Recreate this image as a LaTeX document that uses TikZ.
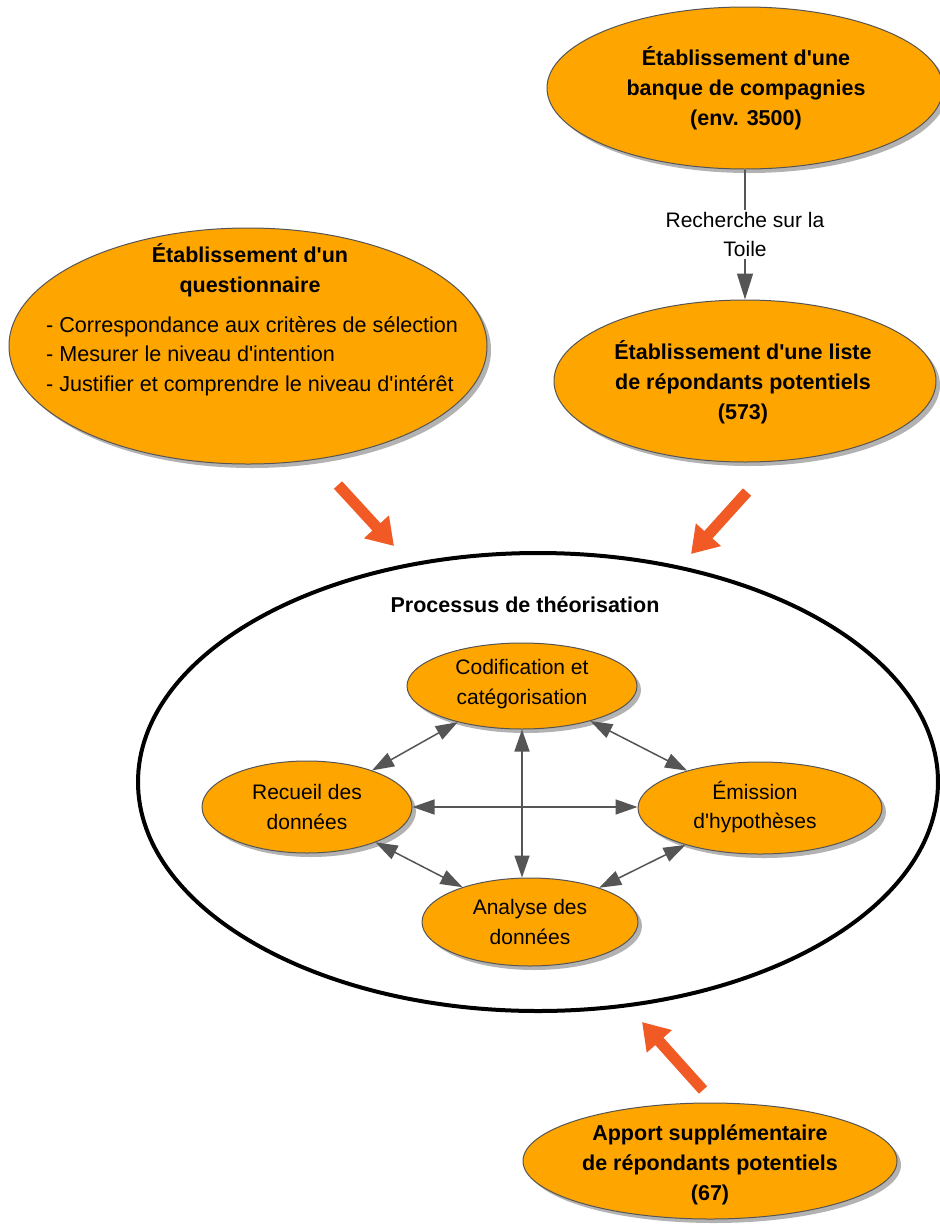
\documentclass[tikz,border=0pt]{standalone}
\usepackage{fontspec}
\setmainfont{Liberation Sans}
\usetikzlibrary{arrows.meta,shapes.geometric,shadows,calc}
\definecolor{fillor}{RGB}{255,165,0}
\definecolor{bord}{RGB}{85,85,85}
\definecolor{conn}{RGB}{85,85,85}
\definecolor{redor}{RGB}{241,90,36}
\newcommand{\apo}{\textquotesingle}
\tikzset{
  oval/.style={ellipse, draw=bord, line width=1pt, fill=fillor, inner sep=0pt,
    drop shadow={shadow xshift=4pt, shadow yshift=-4pt, fill=black, opacity=0.3}},
  btxt/.style={font=\fontsize{21.5}{30}\selectfont\bfseries, align=center, inner sep=0pt},
  rtxt/.style={font=\fontsize{21}{29.5}\selectfont, align=center, inner sep=0pt},
  dbl/.style={draw=conn, line width=1.5pt, {Triangle[length=22pt,width=15pt]}-{Triangle[length=22pt,width=15pt]}},
  sgl/.style={draw=conn, line width=1.5pt, -{Triangle[length=26pt,width=16pt]}},
  bigarrow/.style={draw=redor, line width=11pt, -{Triangle[length=26pt,width=32pt]}},
  bigoval/.style={ellipse, draw=black, line width=4pt, inner sep=0pt}
}
\begin{document}
\begin{tikzpicture}[x=1pt,y=-1pt]
\useasboundingbox[fill=white] (0,0) rectangle (940,1224);

% top right
\node[oval, minimum width=396pt, minimum height=162pt] (banque) at (745,88) {};
\node[btxt] (banquet) at (746,88) {Établissement d\apo une\\banque de compagnies\\(env. 3500)};

\node[oval, minimum width=382pt, minimum height=162pt] (liste) at (745,381) {};
\node[btxt] (listet) at (743,382) {Établissement d\apo une liste\\de répondants potentiels\\(573)};

\draw[sgl] (banque.south) -- node[rtxt, fill=white, inner sep=2pt] (rech) {Recherche sur la\\Toile} (banque.south |- liste.north);

% questionnaire
\node[oval, minimum width=478pt, minimum height=236pt] (quest) at (248,346) {};
\node[btxt] (questt) at (250,270) {Établissement d\apo un\\questionnaire};
\node[rtxt, font=\fontsize{21.6}{29.5}\selectfont, align=left, anchor=west] (questb) at (46,356) {- Correspondance aux critères de sélection\\- Mesurer le niveau d\apo intention\\- Justifier et comprendre le niveau d\apo intérêt};

% big ellipse
\node[bigoval, minimum width=800pt, minimum height=458pt] (proc) at (538,782) {};
\node[btxt] (proct) at (525,605) {Processus de théorisation};

% inner ellipses
\node[oval, minimum width=230pt, minimum height=86pt] (cod) at (522,686) {};
\node[rtxt] (codt) at (522,684) {Codification et\\catégorisation};
\node[oval, minimum width=210pt, minimum height=92pt] (rec) at (307,807) {};
\node[rtxt] (rect) at (307,807) {Recueil des\\données};
\node[oval, minimum width=244pt, minimum height=92pt] (emi) at (760,808) {};
\node[rtxt] (emit) at (755,807) {Émission\\d\apo hypothèses};
\node[oval, minimum width=216pt, minimum height=88pt] (ana) at (530,922) {};
\node[rtxt] (anat) at (530,922) {Analyse des\\données};

\draw[dbl] (rec) -- (cod);
\draw[dbl] (cod) -- (emi);
\draw[dbl] (rec) -- (ana);
\draw[dbl] (emi) -- (ana);
\draw[dbl] (rec.east) -- (rec.east -| emi.west);
\draw[dbl] (cod.south) -- (cod.south |- ana.north);

% bottom
\node[oval, minimum width=374pt, minimum height=116pt] (apport) at (710,1161) {};
\node[btxt] (apportt) at (710,1165) {Apport supplémentaire\\de répondants potentiels\\(67)};

% orange arrows
\coordinate (a1s) at (338,485);
\coordinate (a1e) at (394,546);
\coordinate (a2s) at (747,492);
\coordinate (a2e) at (691,554);
\coordinate (a3s) at (703,1090);
\coordinate (a3e) at (642,1022);
\draw[bigarrow] (a1s) -- (a1e);
\draw[bigarrow] (a2s) -- (a2e);
\draw[bigarrow] (a3s) -- (a3e);
\end{tikzpicture}
\end{document}
